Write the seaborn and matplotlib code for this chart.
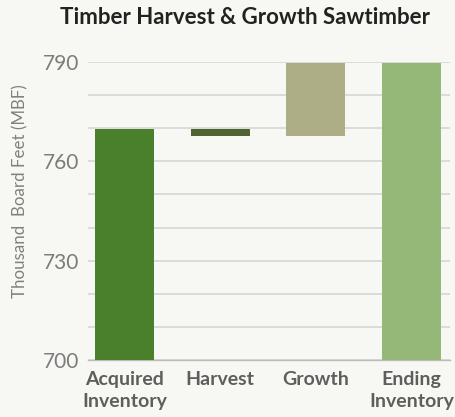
import matplotlib
matplotlib.use("Agg")
import matplotlib.pyplot as plt
import seaborn as sns
import numpy as np
import pandas as pd

categories = ["Acquired\nInventory", "Harvest", "Growth", "Ending\nInventory"]
changes = [769.8, -2.1, 22.1, 789.8]   # totals for first/last, deltas in between
is_total = [True, False, False, True]
colors = ["#4a7f2c", "#4f6430", "#aeae86", "#95b878"]
yticks = [700, 730, 760, 790]

# waterfall geometry from data
bottoms, heights = [], []
running = 0.0
for v, tot in zip(changes, is_total):
    if tot:
        bottoms.append(0.0)
        heights.append(v)
        running = v
    else:
        new = running + v
        bottoms.append(min(running, new))
        heights.append(abs(v))
        running = new

df = pd.DataFrame({"cat": categories, "h": heights})

sns.set_style("white")
plt.rcParams["font.family"] = ["Lato", "DejaVu Sans"]
bg = "#f7f7f3"
fig = plt.figure(figsize=(4.56, 4.17), dpi=100, facecolor=bg)
ax = fig.add_axes([88/456, 1 - 360/417, (450-88)/456, (360-62)/417])
ax.set_facecolor(bg)

sns.barplot(data=df, x="cat", y="h", bottom=bottoms, width=0.615, ax=ax,
            color=colors[0], zorder=3, linewidth=0)
for p, c in zip(ax.patches, colors):
    p.set_facecolor(c)

ax.set_ylim(700, 790)
ax.set_xlim(-0.38, 3.4)
ax.set_yticks(yticks)
ax.set_yticks(np.arange(700, 791, 10), minor=True)
ax.yaxis.grid(True, which="both", color="#d9d9d9", linewidth=1.3, zorder=0)
ax.tick_params(axis="y", which="both", length=0, labelsize=15, labelcolor="#7c7c7c", pad=6)
ax.tick_params(axis="x", length=0, labelsize=14, labelcolor="#5e5e5e", pad=8)
for t in ax.get_xticklabels():
    t.set_fontweight("bold")
    t.set_linespacing(1.35)
for s in ["top", "right", "left"]:
    ax.spines[s].set_visible(False)
ax.spines["bottom"].set_color("#bbbbbb")
ax.spines["bottom"].set_linewidth(1.0)
ax.set_xlabel("")
ax.set_ylabel("")
fig.text(20/456, 1 - 191/417, "Thousand  Board Feet (MBF)", rotation=90,
         ha="center", va="center", fontsize=12.2, color="#808080")
fig.text(245/456, 1 - 18/417, "Timber Harvest & Growth Sawtimber", ha="center",
         va="center", fontsize=16, fontweight="bold", color="#222222")

fig.savefig("out.png", dpi=100, facecolor=bg)
